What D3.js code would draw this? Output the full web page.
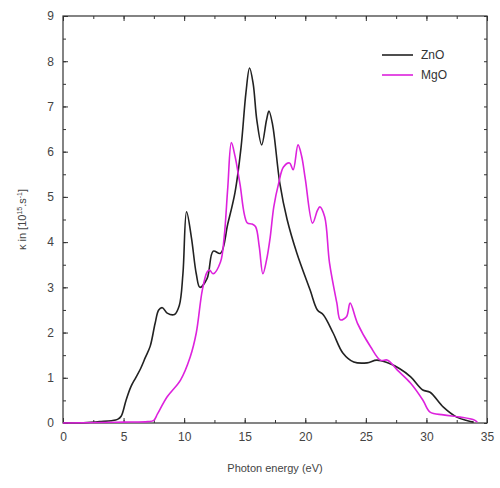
<!DOCTYPE html>
<html>
<head>
<meta charset="utf-8">
<script src="https://cdn.jsdelivr.net/npm/d3@7"></script>
<style>
  body { margin: 0; background: #fff; }
  text { font-family: "Liberation Sans", Arial, sans-serif; }
</style>
</head>
<body>
<div id="chart"></div>
<script>
// photon energy (eV) and kappa (10^15 s^-1)
var znoX = [0, 2, 3, 4, 4.5, 4.8, 5.2, 5.6, 6.0, 6.4, 6.8, 7.2, 7.6, 7.9, 8.2, 8.6, 9.2, 9.6, 9.9, 10.2, 10.6, 11.0, 11.3, 11.9, 12.4, 13.0, 13.6, 14.2, 14.7, 15.1, 15.4, 15.7, 16.0, 16.4, 16.8, 17.0, 17.3, 17.9, 18.5, 19.3, 20.4, 21.0, 21.5, 22.3, 23.1, 24.0, 25.1, 25.9, 26.8, 27.8, 28.7, 29.7, 30.3, 31.4, 32.5, 33.4, 33.9];
var znoY = [0, 0.01, 0.03, 0.05, 0.08, 0.15, 0.5, 0.8, 1.0, 1.2, 1.45, 1.7, 2.2, 2.5, 2.55, 2.43, 2.4, 2.6, 3.3, 4.67, 4.1, 3.3, 3.0, 3.2, 3.8, 3.75, 4.4, 5.1, 6.1, 7.3, 7.85, 7.5, 6.7, 6.15, 6.7, 6.9, 6.6, 5.3, 4.5, 3.76, 2.94, 2.5, 2.39, 1.99, 1.55, 1.35, 1.33, 1.39, 1.33, 1.2, 1.02, 0.73, 0.68, 0.35, 0.13, 0.05, 0.02];

var mgoX = [0, 3, 5, 7, 7.5, 7.8, 8.6, 9.7, 10.5, 11.0, 11.5, 11.9, 12.1, 12.4, 13.0, 13.3, 13.6, 13.9, 14.2, 14.6, 15.2, 15.6, 15.9, 16.2, 16.5, 16.8, 17.1, 17.4, 17.8, 18.2, 18.7, 19.0, 19.4, 19.7, 20.0, 20.6, 21.0, 21.2, 21.6, 22.0, 22.6, 22.9, 23.4, 23.7, 24.3, 25.4, 26.2, 26.8, 27.6, 28.7, 29.7, 30.3, 31.4, 32.8, 33.9, 34.2];
var mgoY = [0, 0.01, 0.02, 0.03, 0.06, 0.2, 0.58, 0.95, 1.46, 1.99, 2.94, 3.34, 3.38, 3.3, 3.56, 4.1, 5.2, 6.2, 5.9, 5.3, 4.43, 4.4, 4.34, 3.9, 3.3, 3.6, 4.1, 4.78, 5.3, 5.66, 5.75, 5.6, 6.15, 5.9, 5.4, 4.42, 4.7, 4.78, 4.56, 3.54, 2.66, 2.28, 2.35, 2.65, 2.21, 1.68, 1.39, 1.39, 1.17, 0.88, 0.51, 0.24, 0.18, 0.13, 0.07, 0.02];

var seriesNames = ['ZnO', 'MgO'];
var seriesColors = ['#222222', '#dd22dd'];
var xTicks = [0, 5, 10, 15, 20, 25, 30, 35];
var yTicks = [0, 1, 2, 3, 4, 5, 6, 7, 8, 9];

var width = 500, height = 488;
var plotL = 63, plotR = 487, plotT = 16, plotB = 423;

var svg = d3.select('#chart').append('svg')
  .attr('width', width)
  .attr('height', height);

var xScale = d3.scaleLinear().domain([0, 35]).range([plotL, plotR]);
var yScale = d3.scaleLinear().domain([0, 9]).range([plotB, plotT]);

var minorX = d3.range(0, 35.01, 2.5);
var minorY = d3.range(0, 9.01, 0.5);

// inside ticks, all four sides
function axisG(axis, tx, ty) {
  var g = svg.append('g')
    .attr('transform', 'translate(' + tx + ',' + ty + ')')
    .call(axis);
  g.select('.domain').remove();
  g.selectAll('line').attr('stroke', '#333').attr('stroke-width', 1);
  g.selectAll('text').attr('fill', '#444').attr('font-size', '12px');
  return g;
}

axisG(d3.axisBottom(xScale).tickValues(minorX).tickSize(-3).tickFormat(''), 0, plotB);
axisG(d3.axisBottom(xScale).tickValues(xTicks).tickSize(-5).tickPadding(9).tickFormat(d3.format('d')), 0, plotB);
axisG(d3.axisTop(xScale).tickValues(minorX).tickSize(-3).tickFormat(''), 0, plotT);
axisG(d3.axisTop(xScale).tickValues(xTicks).tickSize(-5).tickFormat(''), 0, plotT);
axisG(d3.axisLeft(yScale).tickValues(minorY).tickSize(-3).tickFormat(''), plotL, 0);
axisG(d3.axisLeft(yScale).tickValues(yTicks).tickSize(-5).tickPadding(9).tickFormat(d3.format('d')), plotL, 0);
axisG(d3.axisRight(yScale).tickValues(minorY).tickSize(-3).tickFormat(''), plotR, 0);

svg.append('rect')
  .attr('x', plotL).attr('y', plotT)
  .attr('width', plotR - plotL).attr('height', plotB - plotT)
  .attr('fill', 'none').attr('stroke', '#333').attr('stroke-width', 1.2);

var line = d3.line()
  .x(function(d) { return xScale(d[0]); })
  .y(function(d) { return yScale(d[1]); })
  .curve(d3.curveCatmullRom.alpha(0.5));

var series = [d3.zip(znoX, znoY), d3.zip(mgoX, mgoY)];

series.forEach(function(pts, i) {
  svg.append('path')
    .datum(pts)
    .attr('d', line)
    .attr('fill', 'none')
    .attr('stroke', seriesColors[i])
    .attr('stroke-width', 1.6);
});

// legend
seriesNames.forEach(function(name, i) {
  var ly = 55 + i * 20;
  svg.append('line')
    .attr('x1', 382).attr('x2', 413)
    .attr('y1', ly).attr('y2', ly)
    .attr('stroke', seriesColors[i]).attr('stroke-width', 1.6);
  svg.append('text')
    .attr('x', 421).attr('y', ly + 4)
    .attr('font-size', '12px').attr('fill', '#333')
    .text(name);
});

// axis titles
svg.append('text')
  .attr('x', (plotL + plotR) / 2).attr('y', 472)
  .attr('text-anchor', 'middle')
  .attr('font-size', '11px').attr('fill', '#444')
  .text('Photon energy (eV)');

var yt = svg.append('text')
  .attr('transform', 'translate(26,' + ((plotT + plotB) / 2) + ') rotate(-90)')
  .attr('text-anchor', 'middle')
  .attr('font-size', '11px').attr('fill', '#444');
yt.append('tspan').text('κ in [10');
yt.append('tspan').attr('dy', -4).attr('font-size', '7px').text('15');
yt.append('tspan').attr('dy', 4).text('.s');
yt.append('tspan').attr('dy', -4).attr('font-size', '7px').text('-1');
yt.append('tspan').attr('dy', 4).text(']');
</script>
</body>
</html>
